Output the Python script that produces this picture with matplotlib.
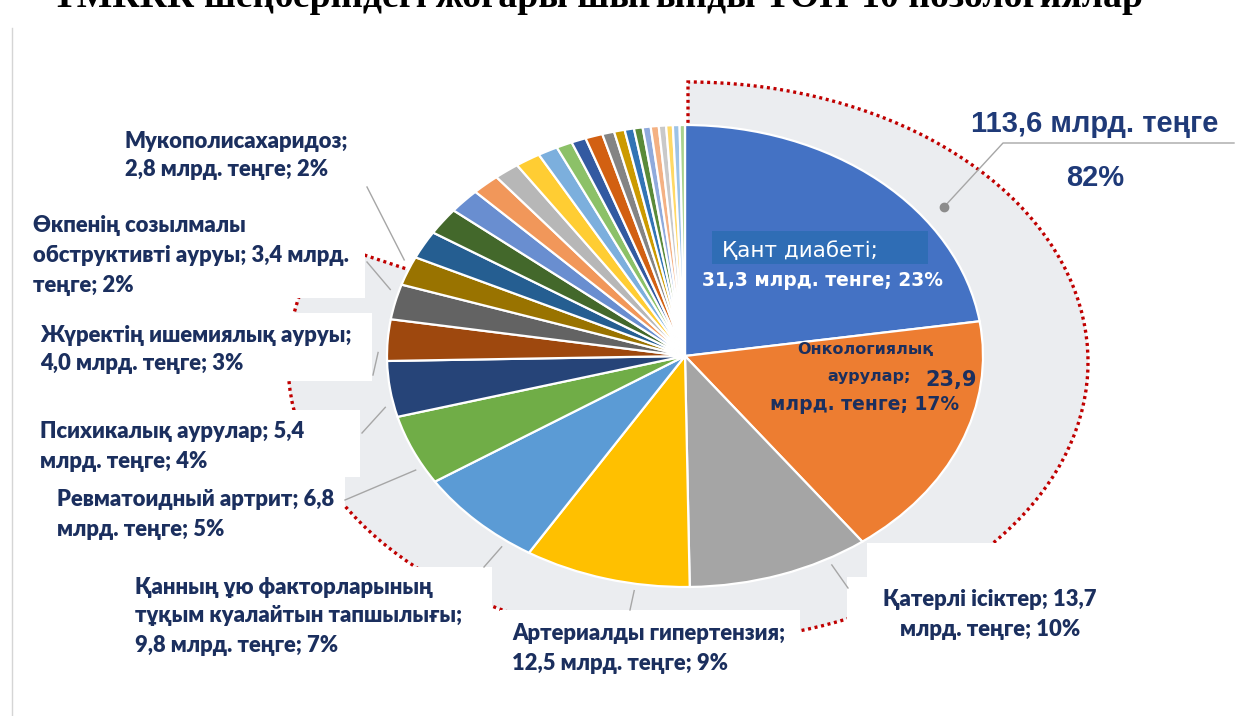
import numpy as np
import matplotlib.pyplot as plt
from matplotlib.patches import Rectangle

W, H = 1245, 716

# --- data (billion tenge), clockwise from 12 o'clock ---
top_values = [31.3, 23.9, 13.7, 12.5, 9.8, 6.8, 5.4, 4.0, 3.4, 2.8]
top_colors = ['#4472C4', '#ED7D31', '#A5A5A5', '#FFC000', '#5B9BD5',
              '#70AD47', '#264478', '#9E480E', '#636363', '#997300']
# remaining nosologies, not labelled
other_values = [2.7, 2.6, 2.4, 2.1, 1.9, 1.9, 1.5, 1.2, 1.1, 1.3,
                0.9, 0.8, 0.7, 0.65, 0.6, 0.6, 0.55, 0.5, 0.5, 0.4]
other_colors = ['#255E91', '#43682B', '#698ED0', '#F1975A', '#B7B7B7',
                '#FFCD33', '#7CAFDD', '#8CC168', '#335AA1', '#D26012',
                '#848484', '#CC9A00', '#3274B5', '#5A8A39', '#8FAADC',
                '#F4B183', '#C9C9C9', '#FFD966', '#9DC3E6', '#A9D18E']

title = "ТМККК шеңберіндегі жоғары шығынды ТОП-10 нозологиялар"

# label templates for slices 2..9 (0 and 1 are written inside the pie)
label_templates = {
    2: "Қатерлі ісіктер; {v}\nмлрд. теңге; {p}%",
    3: "Артериалды гипертензия;\n{v} млрд. теңге; {p}%",
    4: "Қанның ұю факторларының\nтұқым куалайтын тапшылығы;\n{v} млрд. теңге; {p}%",
    5: "Ревматоидный артрит; {v}\nмлрд. теңге; {p}%",
    6: "Психикалық аурулар; {v}\nмлрд. теңге; {p}%",
    7: "Жүректің ишемиялық ауруы;\n{v} млрд. теңге; {p}%",
    8: "Өкпенің созылмалы\nобструктивті ауруы; {v} млрд.\nтеңге; {p}%",
    9: "Мукополисахаридоз;\n{v} млрд. теңге; {p}%",
}

values = top_values + other_values
colors = top_colors + other_colors
total = sum(values)
top_sum = sum(top_values)


def fmt(v):
    return f"{v:.1f}".replace('.', ',')


def pct(v):
    return int(round(v / total * 100))


NAVY = '#1B2F5E'
SANS = ['Lato', 'DejaVu Sans']
ARIAL = ['Liberation Sans', 'DejaVu Sans']
VERD = ['DejaVu Sans']

fig = plt.figure(figsize=(W / 100, H / 100), dpi=100)


def ellipse_axes(cx, cy, rx, ry, lim, z):
    return fig.add_axes([(cx - rx * lim) / W, (H - cy - ry * lim) / H,
                         2 * rx * lim / W, 2 * ry * lim / H], zorder=z)


# grey band + red dotted outline around the top-10 share
ax_band = ellipse_axes(688, 362, 400, 280, 1.05, 1)
ax_band.pie([top_sum, total - top_sum], colors=['#EBEDF0', 'none'],
            startangle=90, counterclock=False, wedgeprops=dict(linewidth=0))
outline, _ = ax_band.pie([top_sum, total - top_sum], colors=['none', 'none'],
                         startangle=90, counterclock=False,
                         wedgeprops=dict(fill=False, edgecolor='#C00000',
                                         linewidth=2.4, linestyle=(0, (0.9, 1.1))))
outline[1].set_visible(False)
ax_band.set_xlim(-1.05, 1.05)
ax_band.set_ylim(-1.05, 1.05)
ax_band.set_aspect('auto')
ax_band.axis('off')

# main pie (elliptical)
ax_pie = ellipse_axes(685, 356, 298, 231, 1.1, 2)
wedges, _ = ax_pie.pie(values, colors=colors, startangle=90, counterclock=False,
                       wedgeprops=dict(edgecolor='white', linewidth=1.6))
ax_pie.set_xlim(-1.1, 1.1)
ax_pie.set_ylim(-1.1, 1.1)
ax_pie.set_aspect('auto')
ax_pie.axis('off')

# overlay in pixel coordinates
ax = fig.add_axes([0, 0, 1, 1], zorder=3)
ax.set_xlim(0, W)
ax.set_ylim(H, 0)
ax.axis('off')
ax.patch.set_alpha(0)

fig.canvas.draw()
to_over = ax.transData.inverted()
to_pie = ax_pie.transData.inverted()


def leader_end(i, anchor, r=1.03):
    # point on the slice rim, as close in angle to the label anchor as the slice allows
    w = wedges[i]
    px, py = to_pie.transform(ax.transData.transform(anchor))
    a = np.degrees(np.arctan2(py, px))
    c = (w.theta1 + w.theta2) / 2
    a = c + ((a - c + 180) % 360 - 180)
    m = 0.2 * (w.theta2 - w.theta1)
    a = np.radians(np.clip(a, w.theta1 + m, w.theta2 - m))
    return to_over.transform(ax_pie.transData.transform((r * np.cos(a), r * np.sin(a))))


# title (cut by the top edge) and slide border
ax.text(597, 7, title, family=['Liberation Serif'], fontweight='bold',
        fontsize=27.2, ha='center', va='baseline', color='black')
ax.plot([12, 12], [28, H], color='#D5D5D5', lw=1)

# white boxes behind labels
boxes = [(115, 120, 245, 65), (30, 208, 335, 90), (30, 313, 342, 68),
         (35, 410, 325, 67), (40, 477, 305, 30), (40, 505, 300, 60),
         (133, 567, 359, 98), (500, 610, 300, 90), (867, 543, 240, 34),
         (847, 577, 260, 90)]
for x, y, w, h in boxes:
    ax.add_patch(Rectangle((x, y), w, h, facecolor='white', edgecolor='none', zorder=1))

# leader lines: label anchor -> slice
anchors = {2: (848, 588), 3: (630, 610), 4: (484, 567), 5: (345, 500),
           6: (362, 433), 7: (373, 375), 8: (367, 262), 9: (367, 187)}
for i, (x0, y0) in anchors.items():
    x1, y1 = leader_end(i, (x0, y0))
    ax.plot([x0, x1], [y0, y1], color='#A6A6A6', lw=1, zorder=2)

# labels outside the pie: (x, first line y, line gap, ha)
label_pos = {2: (990, 598, 29, 'center'), 3: (512, 632, 29, 'left'),
             4: (135, 585, 29, 'left'), 5: (57, 497, 30, 'left'),
             6: (40, 430, 30, 'left'), 7: (40, 333, 29, 'left'),
             8: (33, 224, 30, 'left'), 9: (125, 139, 29, 'left')}
for i, tpl in label_templates.items():
    x, y, gap, ha = label_pos[i]
    text = tpl.format(v=fmt(top_values[i]), p=pct(top_values[i]))
    for k, line in enumerate(text.split('\n')):
        ax.text(x, y + k * gap, line, family=SANS, fontweight='heavy', fontsize=15.8,
                color=NAVY, ha=ha, va='center_baseline', zorder=3)

# labels inside the pie
ax.add_patch(Rectangle((712, 231), 216, 33, facecolor='#2F6DB5', edgecolor='none', zorder=2))
ax.text(722, 249, "Қант диабеті;", family=VERD, fontsize=15.5, color='white',
        ha='left', va='center_baseline', zorder=3)
ax.text(702, 278, f"{fmt(top_values[0])} млрд. тенге; {pct(top_values[0])}%",
        family=VERD, fontweight='bold', fontsize=13.4, color='white',
        ha='left', va='center_baseline', zorder=3)
ax.text(797, 348, "Онкологиялық", family=VERD, fontweight='bold', fontsize=11.5,
        color=NAVY, ha='left', va='center_baseline', zorder=3)
ax.text(827, 375, "аурулар;", family=VERD, fontweight='bold', fontsize=11.5,
        color=NAVY, ha='left', va='center_baseline', zorder=3)
ax.text(925, 378, fmt(top_values[1]), family=VERD, fontweight='bold', fontsize=15,
        color=NAVY, ha='left', va='center_baseline', zorder=3)
ax.text(770, 403, f"млрд. тенге; {pct(top_values[1])}%", family=VERD,
        fontweight='bold', fontsize=13.5, color=NAVY, ha='left',
        va='center_baseline', zorder=3)

# total of the top-10
ax.plot([944], [207], 'o', color='#8C8C8C', ms=6, zorder=3)
ax.plot([944, 1003, 1234], [207, 143, 143], color='#A6A6A6', lw=1, zorder=2)
ax.text(971, 121, f"{fmt(top_sum)} млрд. теңге", family=ARIAL, fontweight='bold',
        fontsize=21, color='#1F3A78', ha='left', va='center_baseline', zorder=3)
ax.text(1066, 175, f"{int(round(top_sum / total * 100))}%", family=ARIAL,
        fontweight='bold', fontsize=21, color='#1F3A78', ha='left',
        va='center_baseline', zorder=3)

fig.savefig('out.png', dpi=100)
